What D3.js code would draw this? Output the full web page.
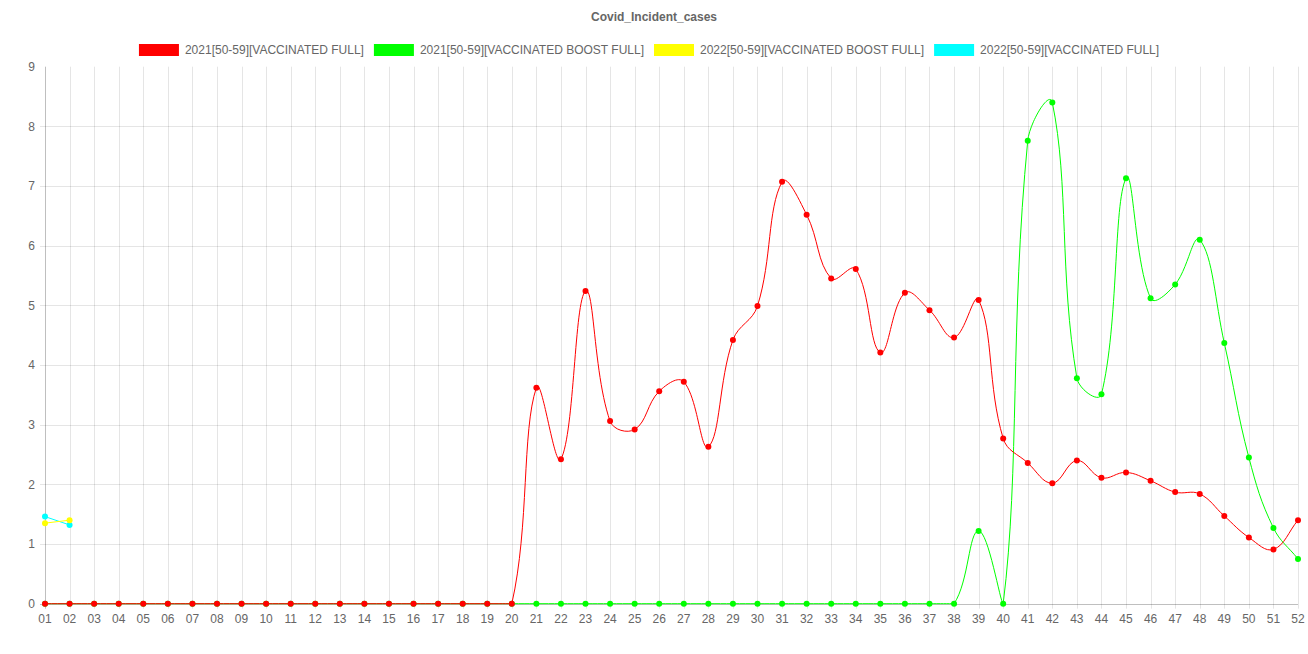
<!DOCTYPE html>
<html><head><meta charset="utf-8">
<script src="https://cdn.jsdelivr.net/npm/d3@7"></script>
<style>html,body{margin:0;padding:0;background:#fff;}svg{display:block;font-family:"Liberation Sans",Arial,sans-serif;}</style>
</head><body><svg id="chart" width="1308" height="654"></svg>
<script>
const title = "Covid_Incident_cases";
const weeks = ["01","02","03","04","05","06","07","08","09","10","11","12","13","14","15","16","17","18","19","20","21","22","23","24","25","26","27","28","29","30","31","32","33","34","35","36","37","38","39","40","41","42","43","44","45","46","47","48","49","50","51","52"];
const yTicks = [0,1,2,3,4,5,6,7,8,9];
const seriesNames = ["2021[50-59][VACCINATED FULL]","2021[50-59][VACCINATED BOOST FULL]","2022[50-59][VACCINATED BOOST FULL]","2022[50-59][VACCINATED FULL]"];
const seriesColors = ["#ff0000","#00ff00","#ffff00","#00ffff"];
const red2021Full = [0,0,0,0,0,0,0,0,0,0,0,0,0,0,0,0,0,0,0,0,
  3.62,2.42,5.24,3.06,2.92,3.56,3.72,2.63,4.42,4.99,7.07,6.52,5.45,5.61,4.21,5.21,4.92,4.46,5.09,2.77,
  2.36,2.02,2.40,2.11,2.20,2.06,1.87,1.84,1.47,1.11,0.91,1.40];
const green2021Boost = [0,0,0,0,0,0,0,0,0,0,0,0,0,0,0,0,0,0,0,0,
  0,0,0,0,0,0,0,0,0,0,0,0,0,0,0,0,0,0,1.22,0,
  7.76,8.40,3.78,3.51,7.13,5.12,5.35,6.10,4.37,2.45,1.27,0.75];
const yellow2022Boost = [1.35,1.40];
const cyan2022Full = [1.46,1.32];
const seriesValues = [red2021Full, green2021Boost, yellow2022Boost, cyan2022Full];

(function () {
const W = 1308, H = 654;
const pL = 45, pR = 1298, pT = 66.7, pB = 603.7;
const svg = d3.select("#chart");
const x = d3.scalePoint().domain(weeks).range([pL, pR]);
const y = d3.scaleLinear().domain([0, 9]).range([pB, pT]);

// grid
const g = svg.append("g");
g.selectAll(".vg").data(weeks).enter().append("line")
  .attr("x1", d => Math.round(x(d)) + 0.5).attr("x2", d => Math.round(x(d)) + 0.5)
  .attr("y1", pT).attr("y2", pB + 5)
  .attr("stroke", (d, i) => i === 0 ? "rgba(0,0,0,0.25)" : "rgba(0,0,0,0.1)").attr("stroke-width", 1);
g.selectAll(".hg").data(yTicks.filter(v => v !== 9)).enter().append("line")
  .attr("x1", pL - 5).attr("x2", pR)
  .attr("y1", d => Math.round(y(d)) + 0.5).attr("y2", d => Math.round(y(d)) + 0.5)
  .attr("stroke", d => d === 0 ? "rgba(0,0,0,0.25)" : "rgba(0,0,0,0.1)").attr("stroke-width", 1);

// tick labels
g.selectAll(".yl").data(yTicks).enter().append("text")
  .attr("x", 35).attr("y", d => y(d)).attr("dy", "0.35em")
  .attr("text-anchor", "end").attr("fill", "#666").attr("font-size", 12).text(d => d);
g.selectAll(".xl").data(weeks).enter().append("text")
  .attr("x", d => x(d)).attr("y", 619).attr("dy", "0.35em")
  .attr("text-anchor", "middle").attr("fill", "#666").attr("font-size", 12).text(d => d);

// title
svg.append("text").attr("x", W / 2).attr("y", 17).attr("dy", "0.35em")
  .attr("text-anchor", "middle").attr("fill", "#666").attr("font-size", 12).attr("font-weight", "bold").text(title);

// legend
const lg = svg.append("g");
const items = seriesNames.map((n, i) => {
  const t = lg.append("text").attr("font-size", 12).attr("fill", "#666").attr("y", 50).attr("dy", "0.35em").text(n);
  return {t, w: t.node().getComputedTextLength(), i};
});
const total = d3.sum(items, d => 40 + 6 + d.w + 10);
let cx = (W - total) / 2;
items.forEach(d => {
  lg.append("rect").attr("x", cx).attr("y", 44).attr("width", 40).attr("height", 12).attr("fill", seriesColors[d.i]);
  d.t.attr("x", cx + 46);
  cx += 40 + 6 + d.w + 10;
});

// Chart.js-like spline curve (tension 0.4, capped to chart area)
function splineCurve(context) {
  let pts;
  const t = 0.4;
  const cap = (v, lo, hi) => Math.max(lo, Math.min(hi, v));
  return {
    areaStart() {}, areaEnd() {},
    lineStart() { pts = []; },
    point(px, py) { pts.push([+px, +py]); },
    lineEnd() {
      const n = pts.length;
      if (!n) return;
      context.moveTo(pts[0][0], pts[0][1]);
      if (n === 2) { context.lineTo(pts[1][0], pts[1][1]); return; }
      const cps = pts.map((p, i) => {
        const pr = pts[Math.max(0, i - 1)], nx = pts[Math.min(n - 1, i + 1)];
        const d01 = Math.hypot(p[0] - pr[0], p[1] - pr[1]);
        const d12 = Math.hypot(nx[0] - p[0], nx[1] - p[1]);
        let s01 = d01 / (d01 + d12), s12 = d12 / (d01 + d12);
        if (!isFinite(s01)) s01 = 0;
        if (!isFinite(s12)) s12 = 0;
        const fa = t * s01, fb = t * s12;
        return {
          px: cap(p[0] - fa * (nx[0] - pr[0]), pL, pR), py: cap(p[1] - fa * (nx[1] - pr[1]), pT, pB),
          nx: cap(p[0] + fb * (nx[0] - pr[0]), pL, pR), ny: cap(p[1] + fb * (nx[1] - pr[1]), pT, pB)
        };
      });
      for (let i = 1; i < n; i++)
        context.bezierCurveTo(cps[i - 1].nx, cps[i - 1].ny, cps[i].px, cps[i].py, pts[i][0], pts[i][1]);
    }
  };
}

const line = d3.line().x((d, i) => x(weeks[i])).y(d => y(d)).curve(splineCurve);
// draw in reverse order so the first dataset is on top
[3, 2, 1, 0].forEach(si => {
  const vals = seriesValues[si];
  const sg = svg.append("g");
  sg.append("path").attr("d", line(vals)).attr("fill", "none")
    .attr("stroke", seriesColors[si]).attr("stroke-width", 1);
  sg.selectAll("circle").data(vals).enter().append("circle")
    .attr("cx", (d, i) => x(weeks[i])).attr("cy", d => y(d)).attr("r", 3)
    .attr("fill", seriesColors[si]);
});
})();
</script></body></html>
